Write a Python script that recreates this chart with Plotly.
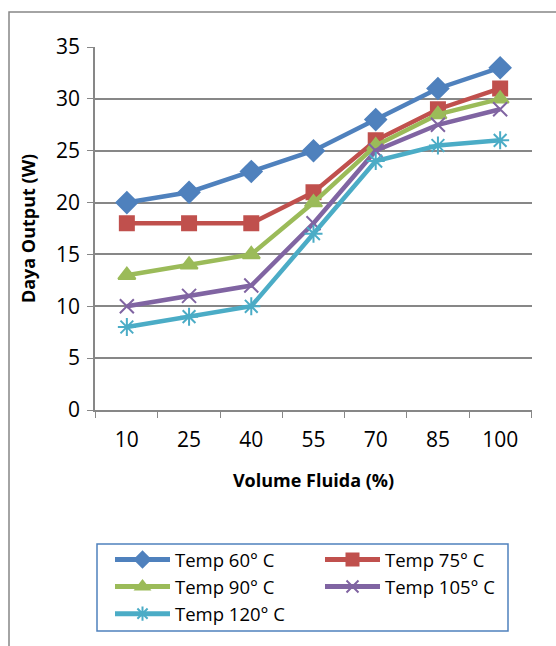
import plotly.graph_objects as go

categories = ["10", "25", "40", "55", "70", "85", "100"]
series_names = ["Temp 60° C", "Temp 75° C", "Temp 90° C", "Temp 105° C", "Temp 120° C"]
temp60 = [20, 21, 23, 25, 28, 31, 33]
temp75 = [18, 18, 18, 21, 26, 29, 31]
temp90 = [13, 14, 15, 20, 25.5, 28.5, 30]
temp105 = [10, 11, 12, 18, 25, 27.5, 29]
temp120 = [8, 9, 10, 17, 24, 25.5, 26]

values = [temp60, temp75, temp90, temp105, temp120]
colors = ["#4F81BD", "#C0504D", "#9BBB59", "#8064A2", "#4BACC6"]
symbols = ["diamond", "square", "triangle-up", "x-thin-open", "asterisk-open"]
sizes = [16, 14, 15, 14, 15]

FONT = "Open Sans"
GRID = "#878787"
W, H = 556, 646

fig = go.Figure()
for name, vals, c, s, sz in zip(series_names, values, colors, symbols, sizes):
    fig.add_trace(go.Scatter(
        x=categories, y=vals, name=name, mode="lines+markers",
        line=dict(color=c, width=4.5),
        marker=dict(symbol=s, size=sz, color=c, line=dict(color=c, width=2)),
    ))

fig.update_layout(
    width=W, height=H,
    margin=dict(l=95, r=24, t=47, b=236),
    paper_bgcolor="white", plot_bgcolor="white",
    font=dict(family=FONT, size=20, color="black"),
    showlegend=True,
    legend=dict(
        orientation="h", xref="container", yref="container",
        x=110 / W, xanchor="left", y=1 - 541 / H, yanchor="top",
        entrywidth=140, entrywidthmode="pixels",
        borderwidth=0, bgcolor="rgba(0,0,0,0)",
        font=dict(family=FONT, size=18.5, color="black"),
        itemwidth=55, itemsizing="constant",
    ),
    xaxis=dict(
        type="category", tickson="boundaries", ticks="outside", ticklen=6,
        tickcolor=GRID, showline=True, linecolor=GRID, linewidth=1.5,
        showgrid=False, tickfont=dict(size=21), ticklabelstandoff=10,
        title=dict(text="<b>Volume Fluida (%)</b>", font=dict(size=18), standoff=22),
    ),
    yaxis=dict(
        range=[0, 35], dtick=5, ticks="outside", ticklen=6, tickcolor=GRID,
        showline=True, linecolor=GRID, linewidth=1.5,
        showgrid=True, gridcolor=GRID, gridwidth=1.5, zeroline=False,
        tickfont=dict(size=21), ticklabelstandoff=3,
        title=dict(text="<b>Daya Output (W)</b>", font=dict(size=18), standoff=16),
    ),
    shapes=[
        dict(
            type="rect", xref="paper", yref="paper",
            x0=(9 - 95) / 437, x1=(600 - 95) / 437,
            y0=(410 - 700) / 363, y1=(410 - 12) / 363,
            line=dict(color=GRID, width=1.5), fillcolor="rgba(0,0,0,0)",
            layer="below",
        ),
        dict(
            type="rect", xref="paper", yref="paper",
            x0=(97 - 95) / 437, x1=(508 - 95) / 437,
            y0=(410 - 631) / 363, y1=(410 - 544) / 363,
            line=dict(color="#4F81BD", width=1.5), fillcolor="rgba(0,0,0,0)",
            layer="below",
        ),
    ],
)

fig.write_html("out.html")
